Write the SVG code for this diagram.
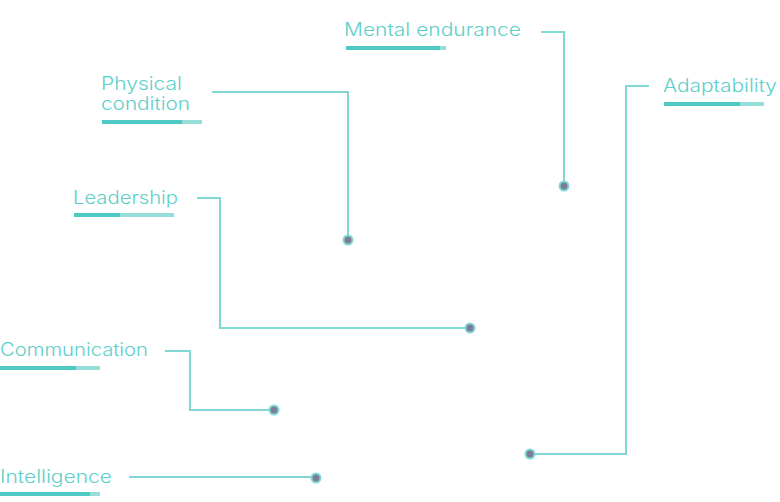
<svg xmlns="http://www.w3.org/2000/svg" width="780" height="502" viewBox="0 0 780 502">
<style>
.lbl{font-family:Inter,"DejaVu Sans",sans-serif;font-weight:300;font-size:18px;fill:#5ccfca}
.dark{fill:#4ec9c3}
.light{fill:#95ddd8}
.con{fill:none;stroke:#7fd8d4;stroke-width:2}
.dot{fill:#7b7d96;stroke:#7fd8d4;stroke-width:2}
</style>
<rect width="780" height="502" fill="#fff"/>
<g id="connectors">
<polyline class="con" points="541,32 564,32 564,186"/>
<polyline class="con" points="212,92 348,92 348,240"/>
<polyline class="con" points="197,198 220,198 220,328 470,328"/>
<polyline class="con" points="165,351 190,351 190,410 274,410"/>
<polyline class="con" points="129,477 316,477"/>
<polyline class="con" points="649,86 626,86 626,454 530,454"/>
<circle class="dot" cx="564" cy="186" r="4.5"/>
<circle class="dot" cx="348" cy="240" r="4.5"/>
<circle class="dot" cx="470" cy="328" r="4.5"/>
<circle class="dot" cx="274" cy="410" r="4.5"/>
<circle class="dot" cx="316" cy="478" r="4.5"/>
<circle class="dot" cx="530" cy="454" r="4.5"/>
</g>
<g id="mental-endurance">
<text class="lbl" x="344" y="36" textLength="177" lengthAdjust="spacingAndGlyphs">Mental endurance</text>
<rect class="light" x="346" y="46" width="100" height="4"/>
<rect class="dark" x="346" y="46" width="94" height="4"/>
</g>
<g id="physical-condition">
<text class="lbl" x="101" y="90" textLength="81" lengthAdjust="spacingAndGlyphs">Physical</text>
<text class="lbl" x="101" y="110" textLength="89" lengthAdjust="spacingAndGlyphs">condition</text>
<rect class="light" x="102" y="120" width="100" height="4"/>
<rect class="dark" x="102" y="120" width="80" height="4"/>
</g>
<g id="leadership">
<text class="lbl" x="73" y="204" textLength="105" lengthAdjust="spacingAndGlyphs">Leadership</text>
<rect class="light" x="74" y="213" width="100" height="4"/>
<rect class="dark" x="74" y="213" width="46" height="4"/>
</g>
<g id="communication">
<text class="lbl" x="0" y="356" textLength="148" lengthAdjust="spacingAndGlyphs">Communication</text>
<rect class="light" x="0" y="366" width="100" height="4"/>
<rect class="dark" x="0" y="366" width="76" height="4"/>
</g>
<g id="intelligence">
<text class="lbl" x="0" y="483" textLength="112" lengthAdjust="spacingAndGlyphs">Intelligence</text>
<rect class="light" x="0" y="492" width="100" height="4"/>
<rect class="dark" x="0" y="492" width="90" height="4"/>
</g>
<g id="adaptability">
<text class="lbl" x="663" y="92" textLength="114" lengthAdjust="spacingAndGlyphs">Adaptability</text>
<rect class="light" x="664" y="102" width="100" height="4"/>
<rect class="dark" x="664" y="102" width="76" height="4"/>
</g>
</svg>
